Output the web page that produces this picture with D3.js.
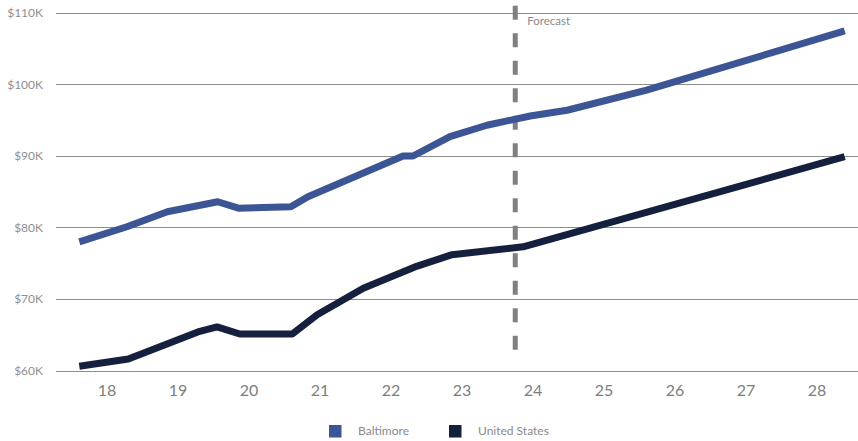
<!DOCTYPE html>
<html>
<head>
<meta charset="utf-8">
<script src="https://cdn.jsdelivr.net/npm/d3@7"></script>
<style>
  body { margin: 0; background: #fff; }
  svg { font-family: "Source Sans Pro", Lato, "Noto Sans", sans-serif; }
  .grid { stroke: #8c8c8c; stroke-width: 1; shape-rendering: crispEdges; }
  .y_labels { fill: #8f8f8f; font-size: 12px; text-anchor: end; }
  .x_labels { fill: #7d7d7d; font-size: 16px; text-anchor: middle; }
  .legend_labels { fill: #8a8a8a; font-size: 12px; }
</style>
</head>
<body>
<svg id="svg-income" width="858" height="441"></svg>
<script>
// year labels along the bottom (shown as two digits)
var years = [2018, 2019, 2020, 2021, 2022, 2023, 2024, 2025, 2026, 2027, 2028];
var valueTicks = [60, 70, 80, 90, 100, 110];

// Baltimore (x = fractional year, y = $K)
var baltYears  = [2018.11, 2018.78, 2019.35, 2020.06, 2020.35, 2021.09, 2021.33, 2022.67, 2022.81, 2023.33, 2023.85, 2024.46, 2024.98, 2026.10, 2028.89];
var baltValues = [78.0, 80.1, 82.2, 83.6, 82.7, 82.9, 84.3, 90.0, 90.0, 92.7, 94.3, 95.6, 96.4, 99.2, 107.5];

// United States
var usYears  = [2018.11, 2018.80, 2019.78, 2020.05, 2020.37, 2021.11, 2021.46, 2022.11, 2022.87, 2023.36, 2024.36, 2028.89];
var usValues = [60.6, 61.6, 65.4, 66.1, 65.1, 65.1, 67.8, 71.5, 74.6, 76.2, 77.3, 89.9];

var seriesNames  = ["Baltimore", "United States"];
var seriesColors = ["#3c5595", "#14203d"];
var forecastYear = 2024.25;

var svg = d3.select("#svg-income");
var w = 858;
var grid_left = 56;

// mid-year sits under each label
var xScale = d3.scaleLinear()
               .domain([2018.5, 2028.5])
               .range([107, 817]);
var yScale = d3.scaleLinear()
               .domain([60, 110])
               .range([370.5, 13]);

svg.selectAll("grid_lines")
    .data(valueTicks)
    .enter()
    .append("line")
    .attr("class", "grid")
    .attr("x1", grid_left)
    .attr("x2", w)
    .attr("y1", function(d) { return Math.round(yScale(d)) + 0.5; })
    .attr("y2", function(d) { return Math.round(yScale(d)) + 0.5; });

svg.selectAll("y_labels")
    .data(valueTicks)
    .enter()
    .append("text")
    .attr("class", "y_labels")
    .attr("x", 43)
    .attr("y", function(d) { return yScale(d); })
    .attr("dy", "0.35em")
    .text(function(d) { return "$" + d + "K"; });

svg.selectAll("x_labels")
    .data(years)
    .enter()
    .append("text")
    .attr("class", "x_labels")
    .attr("x", function(d) { return xScale(d + 0.5); })
    .attr("y", 396)
    .text(function(d) { return String(d).slice(2); });

// forecast divider
svg.append("line")
    .attr("x1", xScale(forecastYear))
    .attr("x2", xScale(forecastYear))
    .attr("y1", yScale(111))
    .attr("y2", yScale(61.1))
    .style("stroke", "#808080")
    .style("stroke-width", 5)
    .style("stroke-dasharray", "14, 13.5");

svg.append("text")
    .attr("x", xScale(forecastYear) + 12)
    .attr("y", 21)
    .attr("dy", "0.35em")
    .text("Forecast")
    .style("fill", "#8a8a8a")
    .style("font-size", "11.5px");

var line = d3.line()
             .x(function(d) { return xScale(d[0]); })
             .y(function(d) { return yScale(d[1]); });

var seriesData = [d3.zip(baltYears, baltValues), d3.zip(usYears, usValues)];

svg.selectAll("series_lines")
    .data(seriesData)
    .enter()
    .append("path")
    .attr("d", line)
    .style("fill", "none")
    .style("stroke", function(d, i) { return seriesColors[i]; })
    .style("stroke-width", 7)
    .style("stroke-linejoin", "round");

// legend
var legend_x = [329, 449];
svg.selectAll("legend_boxes")
    .data(seriesNames)
    .enter()
    .append("rect")
    .attr("x", function(d, i) { return legend_x[i]; })
    .attr("y", 425)
    .attr("width", 12.5)
    .attr("height", 12.5)
    .style("fill", function(d, i) { return seriesColors[i]; });

svg.selectAll("legend_text")
    .data(seriesNames)
    .enter()
    .append("text")
    .attr("class", "legend_labels")
    .attr("x", function(d, i) { return legend_x[i] + 29; })
    .attr("y", 431)
    .attr("dy", "0.35em")
    .text(function(d) { return d; });
</script>
</body>
</html>
